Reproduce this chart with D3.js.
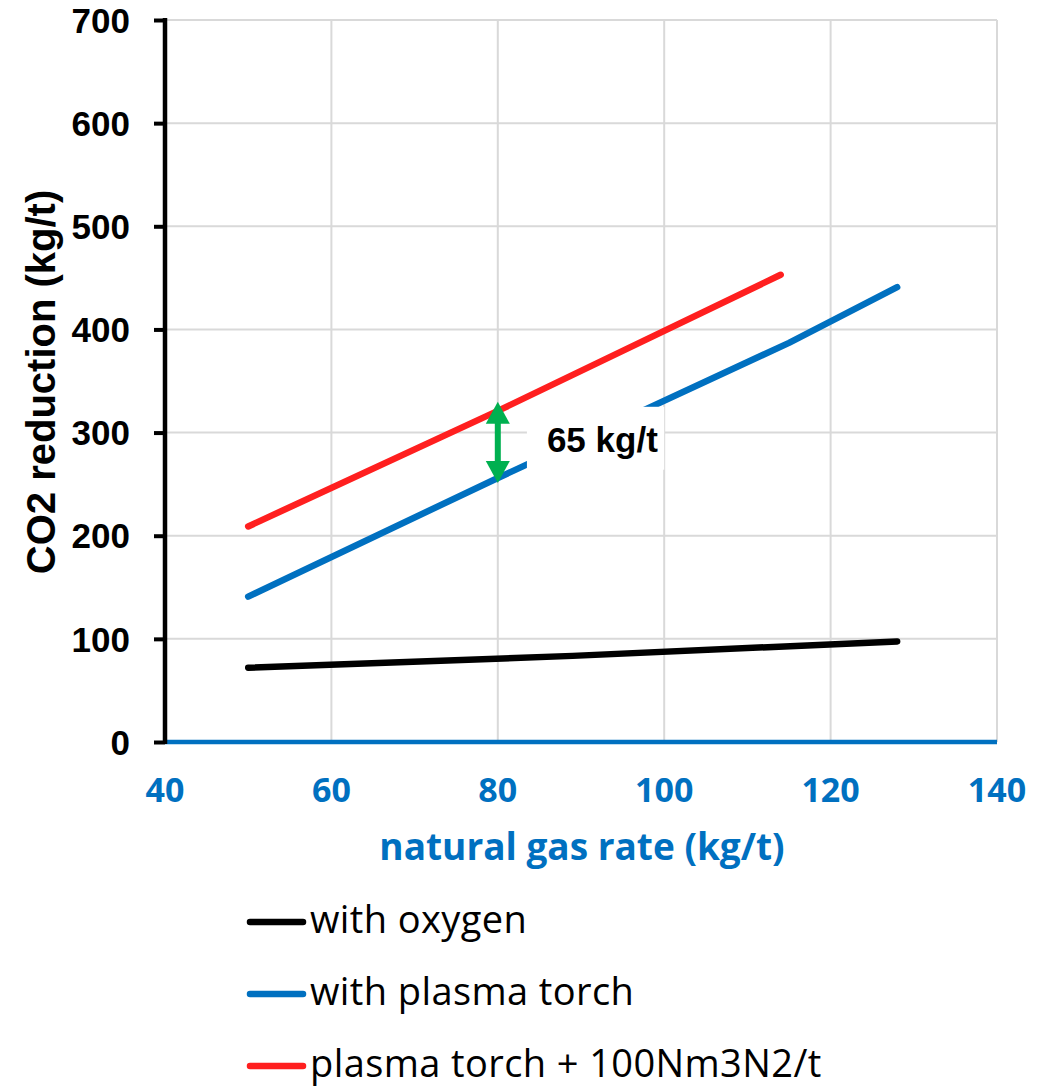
<!DOCTYPE html>
<html><head><meta charset="utf-8">
<script src="https://cdn.jsdelivr.net/npm/d3@7"></script>
<style>body{margin:0;background:#fff}svg{display:block}</style>
</head><body>
<svg id="chart" width="1058" height="1087"></svg>
<script>
// ---- data ----
const xTicks = [40, 60, 80, 100, 120, 140];
const yTicks = [0, 100, 200, 300, 400, 500, 600, 700];
const seriesNames = ["with oxygen", "with plasma torch", "plasma torch + 100Nm3N2/t"];
const seriesColors = ["#000000", "#0070C0", "#FF1F1F"];
const oxygenX = [50, 89, 128];
const oxygenY = [72, 83.5, 97.5];
const plasmaX = [50, 80, 115, 128];
const plasmaY = [141, 256, 387, 441];
const nitrogenX = [50, 80, 114];
const nitrogenY = [209, 321, 453];
const annotationX = 80;
const annotationFrom = 251;
const annotationTo = 330;
const annotationLabel = "65 kg/t";
const labelBoxX = [83.5, 100];
const labelBoxY = [264, 325];
const xTitle = "natural gas rate (kg/t)";
const yTitle = "CO2 reduction (kg/t)";

// ---- layout ----
const svg = d3.select("#chart");
const L = 165, R = 997, T = 20, B = 742;
const x = d3.scaleLinear().domain([40, 140]).range([L, R]);
const y = d3.scaleLinear().domain([0, 700]).range([B, T]);

const series = [
  {name: seriesNames[0], color: seriesColors[0], pts: oxygenX.map((d,i)=>[d, oxygenY[i]])},
  {name: seriesNames[1], color: seriesColors[1], pts: plasmaX.map((d,i)=>[d, plasmaY[i]])},
  {name: seriesNames[2], color: seriesColors[2], pts: nitrogenX.map((d,i)=>[d, nitrogenY[i]])}
];

// grid
const grid = svg.append("g");
grid.selectAll(".hg").data(yTicks.filter(d=>d>0)).join("line")
  .attr("x1", L).attr("x2", R).attr("y1", d=>y(d)).attr("y2", d=>y(d))
  .attr("stroke", "#d9d9d9").attr("stroke-width", 2);
grid.selectAll(".vg").data(xTicks.filter(d=>d>40)).join("line")
  .attr("x1", d=>x(d)).attr("x2", d=>x(d)).attr("y1", T).attr("y2", B)
  .attr("stroke", "#d9d9d9").attr("stroke-width", 2);

// lines
const line = d3.line().x(d=>x(d[0])).y(d=>y(d[1]));
svg.append("g").selectAll("path").data(series).join("path")
  .attr("d", d=>line(d.pts)).attr("fill", "none")
  .attr("stroke", d=>d.color).attr("stroke-width", 6.5)
  .attr("stroke-linecap", "round").attr("stroke-linejoin", "round");

// white label box
svg.append("rect")
  .attr("x", x(labelBoxX[0])).attr("y", y(labelBoxY[1]))
  .attr("width", x(labelBoxX[1]) - x(labelBoxX[0]))
  .attr("height", y(labelBoxY[0]) - y(labelBoxY[1]))
  .attr("fill", "#fff");
svg.append("text")
  .attr("x", x(labelBoxX[0]) + 20).attr("y", y(labelBoxY[0]) - 18)
  .attr("font-family", "Liberation Sans, Arial, sans-serif").attr("font-weight", "bold")
  .attr("font-size", 35).attr("fill", "#000").text(annotationLabel);

// double arrow
const ax = x(annotationX), a1 = y(annotationTo), a2 = y(annotationFrom);
const hw = 12, hl = 22;
const arrow = svg.append("g").attr("fill", "#00B050");
arrow.append("rect").attr("x", ax - 3).attr("y", a1 + hl - 2).attr("width", 6).attr("height", a2 - a1 - 2*hl + 4);
arrow.append("path").attr("d", `M${ax},${a1} L${ax+hw},${a1+hl} L${ax-hw},${a1+hl} Z`);
arrow.append("path").attr("d", `M${ax},${a2} L${ax+hw},${a2-hl} L${ax-hw},${a2-hl} Z`);

// x axis (blue line)
svg.append("line").attr("x1", L).attr("x2", R).attr("y1", B).attr("y2", B)
  .attr("stroke", "#0070C0").attr("stroke-width", 4.5);
svg.append("g").selectAll("text").data(xTicks).join("text")
  .attr("x", d=>x(d)).attr("y", 802).attr("text-anchor", "middle")
  .attr("font-family", "Open Sans, sans-serif").attr("font-weight", "bold")
  .attr("font-size", 34).attr("fill", "#0070C0").text(d=>d);
svg.append("text").attr("x", (L+R)/2 + 1).attr("y", 860).attr("text-anchor", "middle")
  .attr("font-family", "Open Sans, sans-serif").attr("font-weight", "bold")
  .attr("font-size", 37).attr("fill", "#0070C0").text(xTitle);

// y axis
const yAxis = d3.axisLeft(y).tickValues(yTicks).tickSize(11).tickPadding(24).tickFormat(d3.format("d"));
const gy = svg.append("g").attr("transform", `translate(${L},0)`).call(yAxis);
gy.select(".domain").attr("stroke", "#000").attr("stroke-width", 4.5)
  .attr("d", `M0,${T-2}V${B+2}`);
gy.selectAll(".tick line").attr("stroke", "#000").attr("stroke-width", 4);
gy.selectAll(".tick text").attr("font-family", "Liberation Sans, Arial, sans-serif")
  .attr("font-weight", "bold").attr("font-size", 35).attr("fill", "#000").attr("dy", "0.35em");
svg.append("text").attr("transform", `translate(55,${(T+B)/2 + 1}) rotate(-90)`)
  .attr("text-anchor", "middle")
  .attr("font-family", "Liberation Sans, Arial, sans-serif").attr("font-weight", "bold")
  .attr("font-size", 40).attr("fill", "#000").text(yTitle);

// legend
const leg = svg.append("g").selectAll("g").data(series).join("g")
  .attr("transform", (d,i)=>`translate(0,${922 + i*72})`);
leg.append("line").attr("x1", 250).attr("x2", 303).attr("y1", 0).attr("y2", 0)
  .attr("stroke", d=>d.color).attr("stroke-width", 6.5).attr("stroke-linecap", "round");
leg.append("text").attr("x", 310).attr("y", 11)
  .attr("font-family", "Open Sans, sans-serif").attr("font-size", 38).attr("fill", "#000")
  .attr("letter-spacing", 0.4)
  .text(d=>d.name);
</script>
</body></html>
